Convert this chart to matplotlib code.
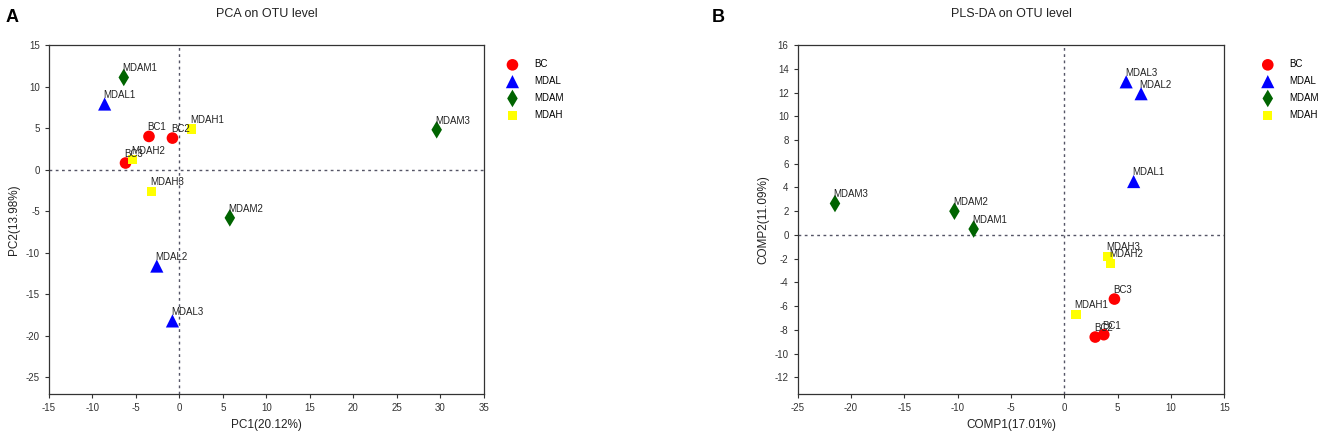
import matplotlib
matplotlib.use('Agg')
import matplotlib.pyplot as plt

plt.rcParams['font.family'] = ['Liberation Sans', 'DejaVu Sans']
plt.rcParams['axes.unicode_minus'] = False

groups = ['BC', 'MDAL', 'MDAM', 'MDAH']
colors = {'BC': '#ff0000', 'MDAL': '#0000ff', 'MDAM': '#006400', 'MDAH': '#ffff00'}
markers = {'BC': 'o', 'MDAL': '^', 'MDAM': 'd', 'MDAH': 's'}
sizes = {'BC': 70, 'MDAL': 90, 'MDAM': 80, 'MDAH': 45}

# sample names per group (same for both plots)
sample_names = {
    'BC': ['BC1', 'BC2', 'BC3'],
    'MDAL': ['MDAL1', 'MDAL2', 'MDAL3'],
    'MDAM': ['MDAM1', 'MDAM2', 'MDAM3'],
    'MDAH': ['MDAH1', 'MDAH2', 'MDAH3'],
}

# PCA scores
pca_x = {
    'BC': [-3.5, -0.8, -6.2],
    'MDAL': [-8.6, -2.6, -0.8],
    'MDAM': [-6.4, 5.8, 29.6],
    'MDAH': [1.4, -5.4, -3.2],
}
pca_y = {
    'BC': [4.0, 3.8, 0.8],
    'MDAL': [7.9, -11.6, -18.2],
    'MDAM': [11.1, -5.8, 4.8],
    'MDAH': [4.9, 1.2, -2.6],
}

# PLS-DA scores
pls_x = {
    'BC': [3.7, 2.9, 4.7],
    'MDAL': [6.5, 7.2, 5.8],
    'MDAM': [-8.5, -10.3, -21.5],
    'MDAH': [1.1, 4.3, 4.1],
}
pls_y = {
    'BC': [-8.4, -8.6, -5.4],
    'MDAL': [4.5, 11.9, 12.9],
    'MDAM': [0.5, 2.0, 2.65],
    'MDAH': [-6.7, -2.4, -1.8],
}


def score_plot(ax, xs, ys, title, xlabel, ylabel, xlim, ylim, xticks, yticks, leg_x):
    for g in groups:
        ax.scatter(xs[g], ys[g], c=colors[g], marker=markers[g], s=sizes[g],
                   edgecolors='none', label=g, zorder=3)
        for name, x, y in zip(sample_names[g], xs[g], ys[g]):
            ax.annotate(name, (x, y), xytext=(-1, 3), textcoords='offset points',
                        fontsize=7, ha='left', va='bottom', color='#222222', zorder=4)
    ax.axhline(0, color='#555566', lw=1, ls=(0, (2, 2.5)), zorder=1)
    ax.axvline(0, color='#555566', lw=1, ls=(0, (2, 2.5)), zorder=1)
    ax.set_xlim(xlim)
    ax.set_ylim(ylim)
    ax.set_xticks(xticks)
    ax.set_yticks(yticks)
    ax.tick_params(labelsize=7, length=3, width=0.8, color='#333333', labelcolor='#333333')
    for sp in ax.spines.values():
        sp.set_color('#333333')
        sp.set_linewidth(0.9)
    ax.set_title(title, fontsize=9, pad=20, color='#222222')
    ax.set_xlabel(xlabel, fontsize=8.5, color='#222222')
    ax.set_ylabel(ylabel, fontsize=8.5, color='#222222')
    ax.legend(loc='upper left', bbox_to_anchor=(leg_x, 0.97), frameon=False, fontsize=7,
              handletextpad=1.2, labelspacing=0.7, borderaxespad=0)


fig = plt.figure(figsize=(13.25, 4.33), dpi=100)
ax1 = fig.add_axes([0.037, 0.090, 0.328, 0.806])
ax2 = fig.add_axes([0.602, 0.090, 0.322, 0.806])

score_plot(ax1, pca_x, pca_y, 'PCA on OTU level', 'PC1(20.12%)', 'PC2(13.98%)',
           (-15, 35), (-27, 15), range(-15, 36, 5), range(-25, 16, 5), 1.035)
score_plot(ax2, pls_x, pls_y, 'PLS-DA on OTU level', 'COMP1(17.01%)', 'COMP2(11.09%)',
           (-25, 15), (-13.4, 16), range(-25, 16, 5), range(-12, 17, 2), 1.07)

fig.text(0.004, 0.95, 'A', fontsize=13, fontweight='bold')
fig.text(0.537, 0.95, 'B', fontsize=13, fontweight='bold')

fig.savefig('out.png', dpi=100)
